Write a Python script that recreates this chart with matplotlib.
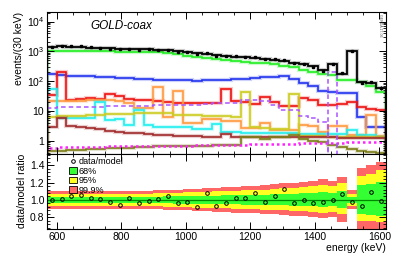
import numpy as np
import matplotlib
matplotlib.use('Agg')
from matplotlib import pyplot as plt
from matplotlib.ticker import MultipleLocator, LogLocator, FixedLocator, NullFormatter, FuncFormatter

plt.rcParams['font.family'] = ['Liberation Sans', 'DejaVu Sans']
plt.rcParams['mathtext.default'] = 'regular'

edges = np.arange(570, 1621, 30)

# model components, events per 30 keV bin (35 bins, 570-1620 keV)
total = [1400, 1550, 1450, 1400, 1350, 1300, 1270, 1250, 1220, 1200, 1170, 1140,
         1080, 1020, 960, 880, 820, 770, 720, 670, 630, 600, 560, 520, 470, 420,
         370, 316, 232, 390, 180, 1070, 95, 88, 60]
alpha_comp = [1000, 1020, 1030, 1030, 1020, 1010, 1000, 990, 980, 970, 960, 940,
              880, 800, 720, 650, 600, 550, 510, 480, 450, 420, 400, 370, 330, 290,
              245, 204, 180, 158, 108, 108, 95, 70, 45]
blue = [170, 160, 155, 150, 145, 140, 135, 130, 125, 120, 116, 113, 110, 108, 106,
        105, 106, 108, 112, 117, 122, 128, 135, 142, 145, 115, 90, 68, 48, 45, 40,
        40, 6.2, 3.0, 3.0]
red = [34, 204, 24, 26, 27, 26, 38, 33, 26, 24, 24, 22, 20, 19, 18, 18, 18, 19, 55,
       21, 20, 17, 30, 20, 15, 15, 28, 24, 16, 16, 17, 20, 14, 12, 11]
orange = [21, 22, 22, 22, 23, 23, 24, 22, 18, 13, 13, 65, 6.5, 48, 4, 4, 5.3, 5.3,
          4.8, 4.8, 2.8, 2.7, 3.9, 2.3, 2.3, 2.3, 3.4, 3.2, 2.0, 3.2, 3.2, 1.6, 1.6,
          7.4, 1.5]
cyan = [53, 5.7, 5.7, 5.7, 5.7, 20, 5.0, 5.4, 3.4, 10.5, 3.4, 3.0, 2.9, 2.9, 2.9,
        2.6, 2.5, 3.6, 2.0, 2.0, 1.9, 1.9, 1.9, 1.9, 1.9, 1.8, 1.7, 1.7, 1.7, 1.7,
        1.7, 2.3, 1.6, 1.6, 1.4]
yellow = [6.5, 6.7, 6.9, 7.1, 7.3, 7.5, 7.7, 7.9, 8.1, 8.3, 8.5, 8.6, 8.4, 7.6, 7.4,
          7.2, 7.0, 6.8, 6.6, 6.3, 42, 3.0, 2.7, 2.6, 2.6, 37, 1.5, 1.5, 1.5, 1.4,
          1.4, 1.4, 1.4, 1.3, 1.3]
darkred = [3.0, 5.7, 3.2, 2.9, 2.7, 2.5, 2.2, 2.0, 1.85, 1.8, 1.7, 1.55, 1.55, 1.5,
           1.47, 1.45, 1.4, 1.4, 1.65, 1.4, 1.4, 1.38, 1.38, 1.36, 1.35, 1.35, 1.33,
           1.33, 1.3, 1.3, 1.28, 1.28, 1.25, 1.25, 1.22]
olive = [0.45, 0.47, 0.49, 0.5, 0.52, 0.54, 0.56, 0.58, 0.6, 0.62, 0.64, 0.65, 0.67,
         0.68, 0.69, 0.7, 0.7, 0.71, 0.71, 0.72, 1.4, 1.3, 1.2, 1.3, 1.4, 1.55, 1.15,
         1.0, 0.9, 0.75, 0.62, 0.55, 0.47, 0.42, 0.38]
magenta = [0.60, 0.61, 0.62, 0.62, 0.63, 0.64, 0.65, 0.65, 0.66, 0.67, 0.68, 0.68,
           0.69, 0.70, 0.70, 0.71, 0.72, 0.72, 0.73, 0.74, 0.75, 0.76, 0.77, 0.78,
           0.79, 0.80, 0.82, 0.83, 0.85, 0.86, 0.88, 0.90, 0.91, 0.93, 0.95]
# violet dashed: continuum part and the single 1461 keV line bin
purple = [13, 13.5, 13.5, 14, 14, 14, 14.5, 14.5, 15, 15, 15, 15.5, 15.5, 16, 16, 16,
          17, 18, 18, 18.5, 24, 24, 22, 16, 11, 11, 6.8, 5.7, 4.4, 0.001, 0.001, 0.001,
          0.001, 0.001, 0.001]
purple_line = [0.001]*29 + [200] + [0.001]*5

# data/model ratio
ratio = [1.0, 1.01, 1.05, 1.055, 1.02, 1.012, 0.98, 0.94, 1.02, 0.96, 0.99, 1.01,
         1.05, 0.96, 0.98, 0.915, 1.077, 0.93, 0.97, 1.02, 1.02, 1.077, 0.98, 1.05,
         1.124, 0.96, 1.0, 0.96, 0.98, 1.0, 1.066, 0.98, 0.93, 1.09, 0.99]

# band half widths (up / down) for 68%, 95%, 99.9%
g_hi = [.035]*10 + [.037, .038, .04, .042, .044, .046, .048, .05, .052, .054, .056,
                    .058, .06, .064, .068, .072, .076, .08, .09, .08, .10, .035, .17, .18, .21]
g_lo = [.035]*10 + [.037, .038, .04, .041, .043, .045, .047, .048, .05, .052, .054,
                    .056, .058, .06, .062, .065, .07, .072, .08, .075, .09, .035, .16, .17, .18]
y_hi = [.07]*10 + [.073, .076, .08, .084, .088, .092, .096, .10, .104, .108, .112,
                   .116, .12, .125, .135, .14, .15, .155, .17, .16, .19, .07, .28, .30, .34]
y_lo = [.07]*10 + [.073, .075, .078, .08, .084, .088, .09, .094, .098, .10, .104,
                   .108, .11, .115, .12, .125, .13, .135, .15, .14, .16, .07, .24, .24, .25]
r_hi = [.10]*10 + [.105, .11, .115, .12, .125, .13, .135, .14, .145, .15, .155,
                   .16, .17, .18, .19, .20, .21, .22, .24, .22, .27, .11, .37, .40, .44]
r_lo = [.10]*10 + [.105, .108, .112, .116, .12, .125, .13, .135, .14, .145, .15,
                   .155, .16, .165, .173, .18, .19, .195, .21, .20, .25, .10, .33, .34, .36]

centers = (edges[:-1] + edges[1:]) / 2
data = np.array(total) * np.array(ratio)
data_err = np.sqrt(data)

fig = plt.figure(figsize=(4.07, 2.60), dpi=100)
ax = fig.add_axes([0.1155, 0.408, 0.8325, 0.546])
axr = fig.add_axes([0.1155, 0.119, 0.8325, 0.289], sharex=ax)

comps = [
    (alpha_comp, '#22ee22'),
    (blue, '#2233ee'),
    (red, '#ee1111'),
    (orange, '#ff9940'),
    (cyan, '#22eeee'),
    (yellow, '#cccc22'),
    (darkred, '#a02a2a'),
    (olive, '#7d7d18'),
]
for vals, col in comps:
    ax.stairs(vals, edges, color=col, lw=3.0, alpha=0.22)
    ax.stairs(vals, edges, color=col, lw=1.2)
ax.stairs(magenta, edges, color='#ff22ff', lw=1.8, ls=(0, (1, 1.2)))
ax.stairs(purple, edges, color='#aa55ff', lw=1.1, ls=(0, (3, 2)))
ax.stairs(purple_line, edges, color='#aa55ff', lw=1.1, ls=(0, (3, 2)))
ax.stairs(total, edges, color='black', lw=3.0, alpha=0.2)
ax.stairs(total, edges, color='black', lw=1.3)
ax.errorbar(centers, data, yerr=data_err, fmt='s', ms=1.6, color='black', lw=0.7,
            capsize=0)

ax.set_yscale('log')
ax.set_xlim(570, 1620)
ax.set_ylim(0.366, 2.1e4)
ax.yaxis.set_major_locator(FixedLocator([1, 10, 100, 1000, 10000]))
ax.yaxis.set_minor_locator(LogLocator(base=10, subs=np.arange(2, 10)))
ax.yaxis.set_minor_formatter(NullFormatter())
ax.yaxis.set_major_formatter(FuncFormatter(
    lambda v, p: {1: '1', 10: '10'}.get(int(round(v)), r'$10^{%d}$' % round(np.log10(v)))))
ax.set_ylabel('events/(30 keV)', fontsize=7.5, loc='top', labelpad=2)
ax.text(0.127, 0.90, 'GOLD-coax', transform=ax.transAxes, fontsize=8.5,
        style='italic', va='center', ha='left')
ax.text(0.99, 0.985, 'GERDA 17-06', transform=ax.transAxes, fontsize=2.6,
        rotation=270, va='top', ha='right', color='#555555')
plt.setp(ax.get_xticklabels(), visible=False)

# ratio panel
axr.stairs(1 + np.array(r_hi), edges, baseline=1 - np.array(r_lo), fill=True,
           color='#ff6666', lw=0, label='99.9%')
axr.stairs(1 + np.array(y_hi), edges, baseline=1 - np.array(y_lo), fill=True,
           color='#ffff22', lw=0, label='95%')
axr.stairs(1 + np.array(g_hi), edges, baseline=1 - np.array(g_lo), fill=True,
           color='#33ff33', lw=0, label='68%')
axr.axhline(1.0, color='#008800', lw=0.9)
axr.plot(centers, ratio, 'o', mfc='none', mec='black', ms=2.6, mew=0.7,
         label='data/model', ls='none')
axr.set_ylim(0.665, 1.53)
axr.yaxis.set_major_locator(FixedLocator([0.8, 1.0, 1.2, 1.4]))
axr.yaxis.set_minor_locator(MultipleLocator(0.04))
axr.yaxis.set_major_formatter(FuncFormatter(lambda v, p: '%.1f' % v))
axr.set_ylabel('data/model ratio', fontsize=7.5, loc='top', labelpad=2)
axr.set_xlabel('energy (keV)', fontsize=7.5, loc='right', labelpad=1)
axr.xaxis.set_major_locator(MultipleLocator(200))
axr.xaxis.set_minor_locator(MultipleLocator(50))

h, l = axr.get_legend_handles_labels()
order = [l.index('data/model'), l.index('68%'), l.index('95%'), l.index('99.9%')]
leg = axr.legend([h[i] for i in order], [l[i] for i in order], loc='upper left',
                 bbox_to_anchor=(0.045, 1.04), fontsize=6.5, frameon=False,
                 handlelength=0.9, handleheight=0.8, handletextpad=0.2,
                 labelspacing=0.05, borderpad=0.2)
for p in leg.get_patches():
    p.set_edgecolor('black')
    p.set_linewidth(0.6)

for a in (ax, axr):
    a.tick_params(which='both', direction='in', top=True, right=True,
                  labelsize=7.5, pad=2)
    a.tick_params(which='major', length=5, width=0.7)
    a.tick_params(which='minor', length=2.5, width=0.6)
    for s in a.spines.values():
        s.set_linewidth(0.8)

fig.savefig('out.png', dpi=100)
